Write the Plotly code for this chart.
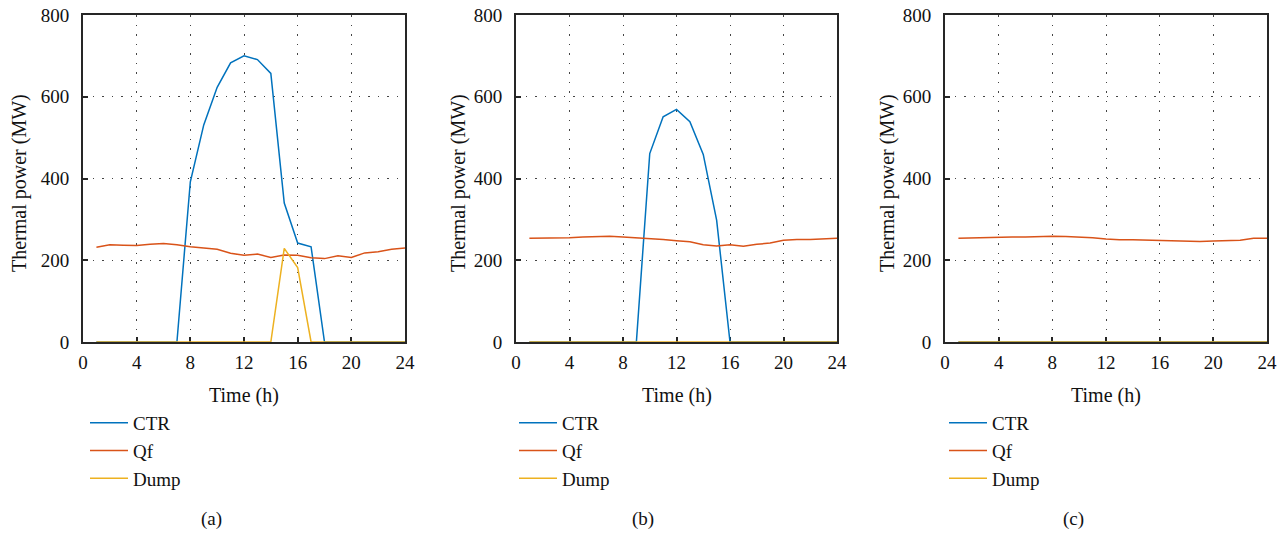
import plotly.graph_objects as go

hours = list(range(1, 25))

ctr_a = [0, 0, 0, 0, 0, 0, 0, 392, 531, 623, 683, 700, 691, 657, 340, 242, 233, 0, 0, 0, 0, 0, 0, 0]
qf_a = [232, 238, 237, 236, 239, 241, 238, 233, 230, 227, 217, 212, 215, 207, 213, 212, 206, 204, 211, 207, 218, 221, 227, 230]
dump_a = [0, 0, 0, 0, 0, 0, 0, 0, 0, 0, 0, 0, 0, 0, 229, 182, 0, 0, 0, 0, 0, 0, 0, 0]

ctr_b = [0, 0, 0, 0, 0, 0, 0, 0, 0, 461, 551, 569, 539, 459, 298, 0, 0, 0, 0, 0, 0, 0, 0, 0]
qf_b = [254, 254, 254, 255, 257, 258, 259, 257, 255, 254, 251, 248, 245, 238, 235, 238, 234, 239, 242, 249, 251, 251, 252, 254]
dump_b = [0] * 24

ctr_c = [0] * 24
qf_c = [254, 255, 255, 256, 257, 257, 258, 259, 258, 257, 255, 252, 250, 250, 249, 248, 247, 247, 246, 247, 248, 249, 254, 254]
dump_c = [0] * 24

series_names = ["CTR", "Qf", "Dump"]
colors = ["#0072BD", "#D95319", "#EDB120"]
panel_labels = ["(a)", "(b)", "(c)"]
x_ticks = [0, 4, 8, 12, 16, 20, 24]
y_ticks = [0, 200, 400, 600, 800]

panels = [(ctr_a, qf_a, dump_a), (ctr_b, qf_b, dump_b), (ctr_c, qf_c, dump_c)]

# the page body margin is removed below, so the figure fills the window
W, H = 1285, 533
FONT = "Liberation Serif"


def px(x):
    return x / W


def py(y):
    return (H - y) / H


plot_left = [83, 516, 945]
plot_right = [405, 837, 1267]
plot_top, plot_bottom = 15, 342
ytitle_x = [19, 458, 887]
legend_text_x = [133, 562, 992]
label_x = [211, 643, 1073]

fig = go.Figure()
annotations = []
for i, data in enumerate(panels):
    n = "" if i == 0 else str(i + 1)
    leg = "legend" + n
    for name, col, vals in zip(series_names, colors, data):
        fig.add_trace(go.Scatter(
            x=hours, y=vals, name=name, mode="lines",
            line=dict(color=col, width=1.5),
            xaxis="x" + n, yaxis="y" + n, legend=leg,
        ))
    axcommon = dict(
        showline=True, linecolor="#262626", linewidth=2, mirror=True,
        ticks="inside", ticklen=5, tickwidth=1.5, tickcolor="#262626",
        showgrid=True, gridcolor="#444444", gridwidth=1, griddash="1.5px,8px",
        zeroline=False, automargin=False, ticklabeloverflow="allow",
        tickfont=dict(family=FONT, size=19, color="#111"),
    )
    fig.update_layout(**{
        "xaxis" + n: dict(axcommon, domain=[px(plot_left[i]), px(plot_right[i])],
                          range=[0, 24], tickvals=x_ticks, anchor="y" + n,
                          ticklabelstandoff=2, layer="below traces"),
        "yaxis" + n: dict(axcommon, domain=[py(plot_bottom), py(plot_top)],
                          range=[0, 800], tickvals=y_ticks, anchor="x" + n,
                          ticklabelstandoff=8),
        leg: dict(x=px(legend_text_x[i] - 48), xanchor="left",
                  y=py(404), yanchor="top",
                  font=dict(family=FONT, size=19, color="#111"),
                  itemwidth=38, bgcolor="rgba(0,0,0,0)", borderwidth=0,
                  tracegroupgap=0),
    })
    cx = (plot_left[i] + plot_right[i]) / 2
    annotations.append(dict(text="Time (h)", x=px(cx), y=py(395), xref="paper", yref="paper",
                            showarrow=False, xanchor="center", yanchor="middle",
                            font=dict(family=FONT, size=20, color="#111")))
    annotations.append(dict(text="Thermal power (MW)", x=px(ytitle_x[i]), y=py(183),
                            xref="paper", yref="paper", textangle=-90,
                            showarrow=False, xanchor="center", yanchor="middle",
                            font=dict(family=FONT, size=20, color="#111")))
    annotations.append(dict(text=panel_labels[i], x=px(label_x[i]), y=py(519),
                            xref="paper", yref="paper",
                            showarrow=False, xanchor="center", yanchor="middle",
                            font=dict(family=FONT, size=19, color="#111")))

fig.update_layout(
    width=W, height=H,
    margin=dict(l=0, r=0, t=0, b=0, autoexpand=False),
    paper_bgcolor="white", plot_bgcolor="white",
    showlegend=True,
    annotations=annotations,
)

fig.write_html("out.html",
               config={"displayModeBar": False},
               post_script="document.body.style.margin='0';document.body.style.overflow='hidden';")
